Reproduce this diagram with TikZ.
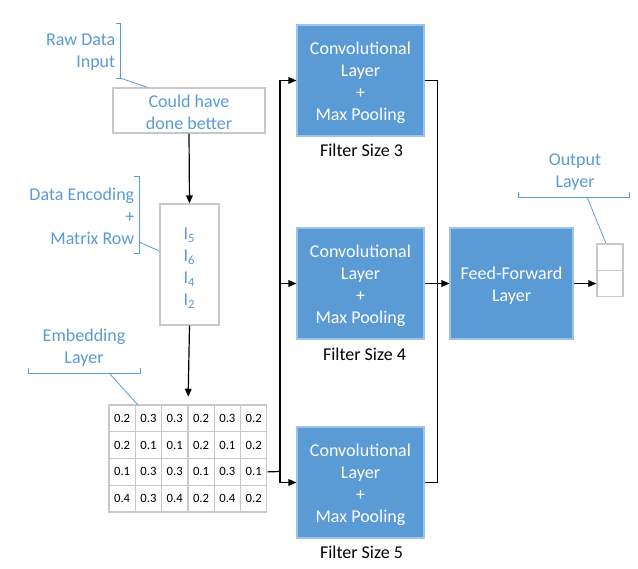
\documentclass[tikz,border=0pt]{standalone}
\usepackage{fontspec}
\setmainfont{Carlito}
\usetikzlibrary{arrows.meta,calc}
\definecolor{obl}{HTML}{5B9BD5}
\definecolor{obd}{HTML}{9DC3E6}
\definecolor{gbr}{HTML}{C8C8C8}
\newcommand\pu{0.75pt}
\begin{document}
\begin{tikzpicture}[x=0.75pt,y=-0.75pt,
  every node/.style={font=\fontsize{13.5}{16.5}\selectfont, inner sep=0pt, align=center},
  convbox/.style={rectangle, fill=obl, draw=obd, line width=0.8pt, text=white, minimum width=127*\pu, minimum height=111*\pu},
  graybox/.style={rectangle, fill=white, draw=gbr, line width=1pt, text=obl},
  cellbox/.style={rectangle, fill=white, draw=gbr, line width=1pt, minimum width=26.3*\pu, minimum height=26.75*\pu, font=\fontsize{9.5}{11}\selectfont},
  lbl/.style={text=obl},
  rlbl/.style={text=obl, align=right, anchor=east},
  brk/.style={draw=obl, line width=0.6pt},
  arr/.style={draw=black, line width=0.9pt, -{Triangle[length=6pt,width=5pt]}},
  ln/.style={draw=black, line width=0.9pt}]
\useasboundingbox (0,0) rectangle (638,568);

% raw input
\node[graybox, minimum width=152*\pu, minimum height=45*\pu] (raw) at (189,110.5) {};
\node[lbl] (rawt) at (189,112) {Could have\\done better};
\node[rlbl] (rawl) at (115.5,52) {Raw Data\\Input};
\draw[brk] (116,23) -- (120,23) -- (120,78) -- (116,78);
\coordinate (rawbr) at (120,78);
\draw[brk] (rawbr) -- ($(raw.north west)+(35,0)$);

% I box
\node[graybox, minimum width=59*\pu, minimum height=121*\pu] (ibox) at (189.5,264.5) {};
\node[lbl] (itext) at (189.5,268.5) {I\textsubscript{5}\\I\textsubscript{6}\\I\textsubscript{4}\\I\textsubscript{2}};
\node[rlbl] (encl) at (134.5,216.5) {Data Encoding\\+\\Matrix Row};
\draw[brk] (134,176) -- (139,176) -- (139,253) -- (134,253);
\coordinate (encbr) at (139,242);
\draw[brk] (encbr) -- ($(ibox.west)+(0,-13.5)$);

\draw[arr] (raw.south) -- (ibox.north);

% embedding matrix
\node[minimum width=158*\pu, minimum height=107*\pu] (emb) at (188,458.5) {};
\foreach \r/\row in {1/{0.2,0.3,0.3,0.2,0.3,0.2},2/{0.2,0.1,0.1,0.2,0.1,0.2},3/{0.1,0.3,0.3,0.1,0.3,0.1},4/{0.4,0.3,0.4,0.2,0.4,0.2}}{
  \foreach \v [count=\c] in \row {
    \node[cellbox] (m-\r-\c) at ({109+26.3*(\c-0.5)},{405+26.75*(\r-0.5)}) {\v};
  }
}
\node[lbl] (embl) at (84,348) {Embedding\\Layer};
\draw[brk] (28,368) -- (28,373) -- (140,373) -- (140,368);
\coordinate (embbr) at (109,373);
\draw[brk] (embbr) -- ($(emb.north west)+(29,0)$);

\draw[arr, shorten >=8*\pu] (ibox.south) -- (emb.north);

% conv boxes
\node[convbox] (c1) at (360.5,80.5) {};
\node[convbox] (c2) at (360.5,283.5) {};
\node[convbox] (c3) at (360.5,482.5) {};
\foreach \b in {c1,c2,c3}{
  \node[text=white] (\b t) at ($(\b.center)+(0,2)$) {Convolutional\\Layer\\+\\Max Pooling};
}
\node (f1) at ($(c1.south)+(1,14)$) {Filter Size 3};
\node (f2) at ($(c2.south)+(4,15)$) {Filter Size 4};
\node (f3) at ($(c3.south)+(1,14)$) {Filter Size 5};

\coordinate (jl) at (280,471.5);
\draw[ln] (m-3-6.east) -- (jl);
\draw[arr] (jl) |- (c1.west);
\draw[arr] (jl) |- (c2.west);
\draw[arr] (jl) |- (c3.west);

% feed forward
\node[convbox, minimum width=123*\pu] (ff) at (511.5,283.5) {};
\node[text=white] (fft) at ($(ff.center)+(0,2)$) {Feed-Forward\\Layer};
\coordinate (jr) at (437.5,283.5);
\draw[ln] (c1.east) -| (jr);
\draw[ln] (c3.east) -| (jr);
\draw[arr] (c2.east) -- (ff.west);

% output
\node[graybox, minimum width=26*\pu, minimum height=27*\pu] (o1) at (610,257.5) {};
\node[graybox, minimum width=26*\pu, minimum height=26*\pu] (o2) at (610,283.5) {};
\draw[arr] (ff.east) -- (o2.west);
\node[lbl] (outl) at (575,172) {Output\\Layer};
\draw[brk] (518,192) -- (518,197) -- (629,197) -- (629,192);
\coordinate (outbr) at (587,197);
\draw[brk] (outbr) -- ($(o1.north)+(-4,0)$);
\end{tikzpicture}
\end{document}
